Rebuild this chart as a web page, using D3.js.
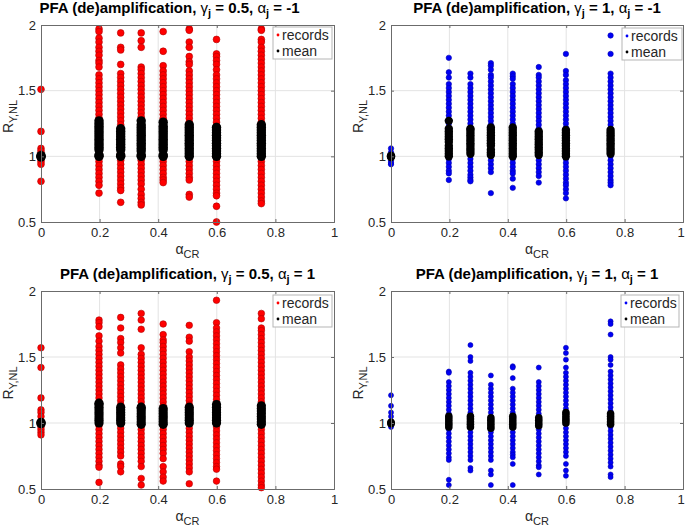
<!DOCTYPE html>
<html><head><meta charset="utf-8">
<script src="https://cdn.jsdelivr.net/npm/d3@7"></script>
<style>
body{margin:0;background:#fff;}
svg{display:block;font-family:Arial,"Liberation Sans",Helvetica,sans-serif;}
</style></head>
<body><svg id="c" width="685" height="526"></svg>
<script>
// ---------- data ----------
const alphaCR = [0, 0.198, 0.272, 0.342, 0.417, 0.506, 0.599, 0.752];
const xTicks = [0, 0.2, 0.4, 0.6, 0.8, 1];
const yTicks = [0.5, 1, 1.5, 2];
const legendLabels = ["records", "mean"];
const titleGamma = ["0.5", "1", "0.5", "1"];
const titleAlpha = ["-1", "-1", "1", "1"];

// records, panel top-left (gamma 0.5, alpha -1)
const recTL = [
 [1.51,1.19,1.06,1.04,1.02,1.00,0.98,0.96,0.94,0.81],
 [1.97,1.95,1.90,1.87,1.83,1.80,1.77,1.73,1.71,1.68,1.62,1.59,1.56,1.53,1.50,1.47,1.44,1.41,1.38,1.35,1.32,1.29,1.26,1.23,1.20,1.17,1.14,1.11,1.08,1.05,1.02,0.99,0.96,0.93,0.90,0.87,0.84,0.81,0.78,0.72],
 [1.94,1.83,1.81,1.70,1.63,1.60,1.57,1.54,1.51,1.48,1.45,1.42,1.39,1.36,1.33,1.30,1.27,1.24,1.21,1.18,1.15,1.12,1.09,1.06,1.03,1.00,0.97,0.94,0.91,0.88,0.85,0.82,0.79,0.76,0.74,0.65],
 [1.94,1.88,1.83,1.68,1.66,1.63,1.60,1.57,1.54,1.51,1.48,1.45,1.42,1.39,1.36,1.33,1.30,1.27,1.24,1.21,1.18,1.15,1.12,1.09,1.06,1.03,1.00,0.97,0.94,0.91,0.88,0.85,0.82,0.79,0.75,0.71,0.68,0.65,0.63],
 [1.95,1.80,1.69,1.65,1.62,1.59,1.56,1.53,1.50,1.47,1.44,1.41,1.38,1.35,1.32,1.29,1.26,1.23,1.20,1.17,1.14,1.11,1.08,1.05,1.02,0.99,0.96,0.93,0.90,0.87,0.84,0.82,0.80],
 [1.97,1.96,1.87,1.83,1.76,1.72,1.70,1.65,1.62,1.59,1.56,1.53,1.50,1.47,1.44,1.41,1.38,1.35,1.32,1.29,1.26,1.23,1.20,1.17,1.14,1.11,1.08,1.05,1.02,0.99,0.96,0.93,0.90,0.87,0.84,0.82,0.71,0.69],
 [1.89,1.78,1.76,1.73,1.70,1.66,1.62,1.59,1.56,1.53,1.50,1.47,1.44,1.41,1.38,1.35,1.32,1.29,1.26,1.23,1.20,1.17,1.14,1.11,1.08,1.05,1.02,0.99,0.96,0.93,0.90,0.87,0.84,0.81,0.78,0.75,0.72,0.70,0.62,0.50],
 [1.97,1.96,1.89,1.87,1.83,1.80,1.77,1.74,1.71,1.68,1.65,1.62,1.59,1.56,1.53,1.50,1.47,1.44,1.41,1.38,1.35,1.32,1.29,1.26,1.23,1.20,1.17,1.14,1.11,1.08,1.05,1.02,0.99,0.96,0.93,0.90,0.87,0.84,0.81,0.78,0.75,0.72,0.69,0.66,0.64]
];
const meanTL = [
 [1.0,1.005,0.995],
 [1.0,1.01,1.05,1.07,1.09,1.11,1.13,1.15,1.17,1.19,1.21,1.23,1.25,1.27],
 [1.0,1.01,1.05,1.07,1.09,1.11,1.13,1.15,1.17,1.19,1.21],
 [1.0,1.01,1.04,1.06,1.08,1.10,1.12,1.14,1.16,1.18,1.20,1.22,1.24,1.27],
 [1.0,1.01,1.05,1.07,1.09,1.11,1.13,1.15,1.17,1.19,1.21,1.23,1.26],
 [1.0,1.02,1.04,1.06,1.08,1.10,1.12,1.14,1.16,1.18,1.20,1.22,1.24],
 [1.0,1.02,1.04,1.06,1.08,1.10,1.12,1.14,1.16,1.18,1.20,1.22],
 [1.0,1.02,1.04,1.06,1.08,1.10,1.12,1.14,1.16,1.18,1.20,1.22,1.24]
];
// records, panel top-right (gamma 1, alpha -1)
const recTR = [
 [1.06,1.03,1.00,0.97,0.95,0.94],
 [1.75,1.64,1.60,1.55,1.52,1.49,1.46,1.43,1.40,1.37,1.34,1.31,1.28,1.25,1.22,1.19,1.16,1.13,1.10,1.07,1.04,1.01,0.98,0.95,0.92,0.89,0.87,0.82],
 [1.63,1.60,1.55,1.52,1.49,1.46,1.43,1.40,1.37,1.34,1.31,1.28,1.25,1.22,1.19,1.16,1.13,1.10,1.07,1.04,1.01,0.98,0.95,0.92,0.89,0.86,0.84,0.82,0.81],
 [1.71,1.69,1.66,1.62,1.60,1.57,1.54,1.51,1.48,1.45,1.42,1.39,1.36,1.33,1.30,1.27,1.24,1.21,1.18,1.15,1.12,1.09,1.06,1.03,1.00,0.97,0.94,0.91,0.88,0.72],
 [1.63,1.61,1.59,1.55,1.52,1.49,1.46,1.43,1.40,1.37,1.34,1.31,1.28,1.25,1.22,1.19,1.16,1.13,1.10,1.07,1.04,1.01,0.98,0.95,0.92,0.89,0.87,0.83,0.76],
 [1.68,1.62,1.60,1.57,1.54,1.51,1.48,1.45,1.42,1.39,1.36,1.33,1.30,1.27,1.24,1.21,1.18,1.15,1.12,1.09,1.06,1.03,1.00,0.97,0.94,0.91,0.88,0.85,0.80],
 [1.78,1.65,1.62,1.58,1.55,1.52,1.49,1.46,1.43,1.40,1.37,1.34,1.31,1.28,1.25,1.22,1.19,1.16,1.13,1.10,1.07,1.04,1.01,0.98,0.95,0.92,0.89,0.86,0.83,0.80,0.78,0.75,0.72,0.68],
 [1.92,1.78,1.63,1.60,1.57,1.54,1.51,1.48,1.45,1.42,1.39,1.36,1.33,1.30,1.27,1.24,1.21,1.18,1.15,1.12,1.09,1.06,1.03,1.00,0.97,0.94,0.91,0.88,0.85,0.82,0.80,0.78]
];
const meanTR = [
 [1.0,1.005,0.995],
 [1.27,1.0,1.02,1.04,1.06,1.08,1.11,1.13,1.15,1.17,1.19,1.21],
 [1.02,1.04,1.06,1.08,1.10,1.12,1.14,1.16,1.18,1.20,1.21],
 [1.01,1.03,1.05,1.08,1.10,1.12,1.14,1.16,1.18,1.20,1.22],
 [1.00,1.02,1.04,1.06,1.08,1.10,1.12,1.14,1.16,1.18,1.20,1.22],
 [1.01,1.03,1.05,1.07,1.09,1.11,1.13,1.15,1.17,1.19],
 [1.00,1.02,1.04,1.06,1.08,1.10,1.12,1.14,1.16,1.18,1.20],
 [1.02,1.04,1.06,1.08,1.10,1.12,1.14,1.16,1.18,1.20]
];
// records, panel bottom-left (gamma 0.5, alpha 1)
const recBL = [
 [1.57,1.42,1.19,1.10,1.08,1.05,1.00,0.97,0.95,0.93,0.91],
 [1.78,1.76,1.73,1.66,1.62,1.58,1.55,1.52,1.49,1.46,1.43,1.40,1.37,1.34,1.31,1.28,1.25,1.22,1.19,1.16,1.13,1.10,1.07,1.04,1.01,0.98,0.95,0.92,0.89,0.86,0.83,0.80,0.77,0.74,0.71,0.68,0.665,0.55],
 [1.80,1.72,1.64,1.61,1.57,1.53,1.44,1.41,1.38,1.35,1.32,1.29,1.26,1.23,1.20,1.17,1.14,1.11,1.08,1.05,1.02,0.99,0.96,0.93,0.90,0.87,0.84,0.81,0.78,0.75,0.69,0.67,0.63],
 [1.83,1.78,1.71,1.57,1.52,1.49,1.46,1.43,1.40,1.37,1.34,1.31,1.28,1.25,1.22,1.19,1.16,1.13,1.10,1.07,1.04,1.01,0.98,0.95,0.92,0.89,0.86,0.83,0.80,0.77,0.74,0.71,0.67,0.58,0.53],
 [1.75,1.67,1.63,1.61,1.58,1.55,1.52,1.49,1.46,1.43,1.40,1.37,1.34,1.31,1.28,1.25,1.22,1.19,1.16,1.13,1.10,1.07,1.04,1.01,0.98,0.95,0.92,0.89,0.86,0.83,0.80,0.77,0.73,0.67,0.63,0.59,0.56],
 [1.74,1.65,1.62,1.54,1.50,1.47,1.44,1.41,1.38,1.35,1.32,1.29,1.26,1.23,1.20,1.17,1.14,1.11,1.08,1.05,1.02,0.99,0.96,0.93,0.90,0.87,0.84,0.81,0.78,0.75,0.72,0.69,0.66,0.63,0.54],
 [1.93,1.76,1.72,1.69,1.66,1.63,1.60,1.57,1.54,1.51,1.48,1.45,1.42,1.39,1.36,1.33,1.30,1.27,1.24,1.21,1.18,1.15,1.12,1.09,1.06,1.03,1.00,0.97,0.94,0.91,0.88,0.85,0.82,0.79,0.76,0.73,0.70,0.67,0.65,0.56],
 [1.83,1.79,1.72,1.70,1.67,1.64,1.61,1.58,1.55,1.52,1.49,1.46,1.43,1.40,1.37,1.34,1.31,1.28,1.25,1.22,1.19,1.16,1.13,1.10,1.07,1.04,1.01,0.98,0.95,0.92,0.89,0.86,0.83,0.80,0.77,0.74,0.71,0.68,0.65,0.62,0.59,0.56,0.53,0.51]
];
const meanBL = [
 [1.0,1.005,0.995],
 [1.00,1.02,1.04,1.06,1.08,1.10,1.12,1.14,1.15],
 [1.00,1.02,1.04,1.06,1.08,1.10,1.12],
 [0.99,1.01,1.03,1.05,1.07,1.09,1.11,1.12],
 [0.99,1.01,1.03,1.05,1.07,1.09,1.11],
 [1.00,1.02,1.04,1.06,1.08,1.10,1.12],
 [1.00,1.02,1.04,1.06,1.08,1.10,1.12,1.14],
 [0.99,1.01,1.03,1.05,1.07,1.09,1.11,1.13]
];
// records, panel bottom-right (gamma 1, alpha 1)
const recBR = [
 [1.21,1.13,1.08,1.05,1.00,0.98,0.97],
 [1.39,1.38,1.31,1.28,1.25,1.22,1.19,1.16,1.13,1.10,1.07,1.04,1.01,0.98,0.95,0.92,0.89,0.86,0.83,0.80,0.77,0.74,0.72,0.57,0.53],
 [1.59,1.50,1.47,1.38,1.35,1.32,1.29,1.26,1.23,1.20,1.17,1.14,1.11,1.08,1.05,1.02,0.99,0.96,0.93,0.90,0.87,0.84,0.81,0.78,0.75,0.72,0.66,0.64],
 [1.36,1.29,1.26,1.23,1.20,1.17,1.14,1.11,1.08,1.05,1.02,0.99,0.96,0.93,0.90,0.87,0.84,0.81,0.78,0.75,0.72,0.64,0.61,0.53],
 [1.43,1.42,1.34,1.26,1.23,1.20,1.17,1.14,1.11,1.08,1.05,1.02,0.99,0.96,0.93,0.90,0.87,0.84,0.81,0.78,0.76,0.74,0.69,0.53],
 [1.42,1.31,1.28,1.25,1.22,1.19,1.16,1.13,1.10,1.07,1.04,1.01,0.98,0.95,0.92,0.89,0.86,0.83,0.80,0.77,0.74,0.71,0.68,0.665,0.61],
 [1.57,1.53,1.48,1.42,1.38,1.35,1.32,1.29,1.26,1.23,1.20,1.17,1.14,1.11,1.08,1.05,1.02,0.99,0.96,0.93,0.90,0.87,0.84,0.81,0.78,0.75,0.69,0.64,0.60],
 [1.77,1.75,1.67,1.50,1.48,1.44,1.39,1.36,1.33,1.30,1.27,1.24,1.21,1.18,1.15,1.12,1.09,1.06,1.03,1.00,0.97,0.94,0.91,0.88,0.85,0.82,0.79,0.76,0.73,0.70,0.67,0.61,0.59]
];
const meanBR = [
 [1.0,1.005,0.995],
 [0.97,0.99,1.01,1.03,1.05],
 [0.97,0.99,1.01,1.03,1.05],
 [0.96,0.98,1.00,1.02,1.04],
 [0.97,0.99,1.01,1.03,1.05],
 [0.98,1.00,1.02,1.04],
 [1.00,1.02,1.04,1.06,1.08],
 [0.99,1.01,1.03,1.05,1.07]
];

// ---------- layout ----------
const panels = [
 {rec: recTL, mean: meanTL, color:"#ff0000", stroke:"#b00000", rR:3.4, rM:4.7, g:titleGamma[0], a:titleAlpha[0], x0:41, x1:334, y0:25, y1:222, leg:[273,27,59,32], tdx:-18},
 {rec: recTR, mean: meanTR, color:"#0000f5", stroke:"#0000b0", rR:2.7, rM:4.2, g:titleGamma[1], a:titleAlpha[1], x0:391, x1:683, y0:25, y1:222, leg:[622,28,60,32], tdx:0},
 {rec: recBL, mean: meanBL, color:"#ff0000", stroke:"#b00000", rR:3.3, rM:4.6, g:titleGamma[2], a:titleAlpha[2], x0:41, x1:334, y0:291, y1:489, leg:[273,295,59,32], tdx:0},
 {rec: recBR, mean: meanBR, color:"#0000f5", stroke:"#0000b0", rR:2.5, rM:3.8, g:titleGamma[3], a:titleAlpha[3], x0:391, x1:683, y0:291, y1:489, leg:[621,295,58,32], tdx:0}
];

const svg = d3.select("#c");
const axisCol = "#6b6b6b", textCol = "#262626";

panels.forEach(p => {
  const x = d3.scaleLinear().domain([0,1]).range([p.x0, p.x1]);
  const y = d3.scaleLinear().domain([0.5,2]).range([p.y1, p.y0]);
  const g = svg.append("g");

  // grid
  g.append("g").selectAll("line").data(xTicks.slice(1,-1)).join("line")
    .attr("x1", d=>x(d)).attr("x2", d=>x(d)).attr("y1", p.y0).attr("y2", p.y1)
    .attr("stroke","#e3e3e3").attr("stroke-width",1);
  g.append("g").selectAll("line").data(yTicks.slice(1,-1)).join("line")
    .attr("y1", d=>y(d)).attr("y2", d=>y(d)).attr("x1", p.x0).attr("x2", p.x1)
    .attr("stroke","#e3e3e3").attr("stroke-width",1);

  // records
  const recPts = [];
  p.rec.forEach((arr,i)=>arr.forEach(v=>recPts.push([alphaCR[i], v])));
  g.append("g").selectAll("circle").data(recPts).join("circle")
    .attr("cx", d=>x(d[0])).attr("cy", d=>y(d[1])).attr("r", p.rR)
    .attr("fill", p.color).attr("stroke", p.stroke).attr("stroke-width",0.6);
  // means
  const meanPts = [];
  p.mean.forEach((arr,i)=>arr.forEach(v=>meanPts.push([alphaCR[i], v])));
  g.append("g").selectAll("circle").data(meanPts).join("circle")
    .attr("cx", d=>x(d[0])).attr("cy", d=>y(d[1])).attr("r", p.rM)
    .attr("fill", "#000");

  // axes
  const ax = d3.axisBottom(x).tickValues(xTicks).tickFormat(d=>String(d)).tickSize(-3).tickPadding(6);
  const ay = d3.axisLeft(y).tickValues(yTicks).tickFormat(d=>String(d)).tickSize(-3).tickPadding(5);
  const gx = g.append("g").attr("transform",`translate(0,${p.y1})`).call(ax);
  const gy = g.append("g").attr("transform",`translate(${p.x0},0)`).call(ay);
  const gxt = g.append("g").attr("transform",`translate(0,${p.y0})`).call(d3.axisTop(x).tickValues(xTicks).tickFormat("").tickSize(-3));
  const gyr = g.append("g").attr("transform",`translate(${p.x1},0)`).call(d3.axisRight(y).tickValues(yTicks).tickFormat("").tickSize(-3));
  [gx,gy,gxt,gyr].forEach(a=>{
    a.select(".domain").attr("stroke", axisCol);
    a.selectAll(".tick line").attr("stroke", axisCol);
    a.selectAll(".tick text").attr("fill", textCol).style("font-size","13px").style("font-family","Arial, 'Liberation Sans', sans-serif");
  });
  // keep the right-most x tick label inside the canvas
  gx.selectAll(".tick text").filter(d=>d===1 && x(1)>680).attr("dx", -2.5);

  // title
  const cx = (p.x0+p.x1)/2;
  const t = svg.append("text").attr("x", cx + p.tdx).attr("y", p.y0-12).attr("text-anchor","middle")
    .style("font-size","15px").style("font-weight","bold").attr("fill","#000");
  t.append("tspan").text("PFA (de)amplification, ");
  t.append("tspan").text("γ").style("font-weight","normal");
  t.append("tspan").text("j").attr("dy",4).style("font-size","11px");
  t.append("tspan").text(" = " + p.g + ", ").attr("dy",-4);
  t.append("tspan").text("α").style("font-weight","normal");
  t.append("tspan").text("j").attr("dy",4).style("font-size","11px");
  t.append("tspan").text(" = " + p.a).attr("dy",-4);

  // x label
  const xl = svg.append("text").attr("x", cx).attr("y", p.y1+32).attr("text-anchor","middle")
    .style("font-size","14px").attr("fill", textCol);
  xl.append("tspan").text("α");
  xl.append("tspan").text("CR").attr("dy",4).style("font-size","11px");

  // y label
  const yc = (p.y0+p.y1)/2 - 7;
  const yl = svg.append("text").attr("transform",`translate(${p.x0-28},${yc}) rotate(-90)`)
    .attr("text-anchor","middle").style("font-size","14px").attr("fill", textCol);
  yl.append("tspan").text("R");
  yl.append("tspan").text("Y,NL").attr("dy",4).style("font-size","11px");

  // legend
  const [lx, ly, lw, lh] = p.leg;
  const lg = svg.append("g");
  lg.append("rect").attr("x",lx).attr("y",ly).attr("width",lw).attr("height",lh)
    .attr("fill","#fff").attr("stroke","#b5b5b5").attr("stroke-width",1);
  const cols = [p.color, "#000"];
  legendLabels.forEach((lab,i)=>{
    const yy = ly + 8 + i*16;
    lg.append("circle").attr("cx", lx+5).attr("cy", yy).attr("r",1.4).attr("fill", cols[i]);
    lg.append("text").attr("x", lx+9).attr("y", yy+5).text(lab)
      .style("font-size","14px").attr("fill", textCol);
  });
});
</script></body></html>
